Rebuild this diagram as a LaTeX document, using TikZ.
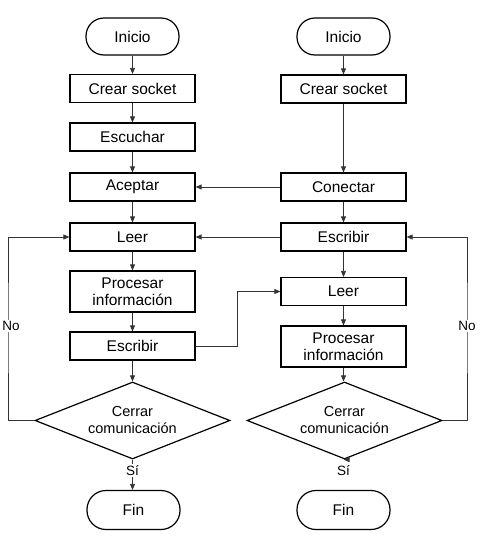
\documentclass[tikz,border=0pt]{standalone}
\usepackage{fontspec}
\setmainfont{Liberation Sans}
\usetikzlibrary{shapes.geometric,arrows.meta}
\begin{document}
\begin{tikzpicture}[x=1pt,y=-1pt,
  every node/.style={font=\fontsize{15.5}{17.5}\selectfont},
  procbox/.style={draw=black,line width=1.2pt,minimum width=125pt,minimum height=28pt,inner sep=0pt,align=center},
  termbox/.style={draw=black,line width=1.2pt,minimum width=93pt,minimum height=37pt,rounded corners=18pt,inner sep=0pt},
  decbox/.style={draw=black,line width=1.2pt,diamond,aspect=2.53,minimum width=195pt,minimum height=77pt,inner sep=0pt,align=center,font=\fontsize{14.5}{17}\selectfont},
  conn/.style={draw=black!80,line width=0.8pt,-{Triangle[length=6pt,width=5pt]}},
  lbl/.style={fill=white,inner sep=1pt,font=\fontsize{13.5}{15}\selectfont}]
\useasboundingbox (0,0) rectangle (485,536);
% left column
\node[termbox] (ini1) at (132.5,36.5) {Inicio};
\node[procbox] (cs1) at (132.5,88.5) {Crear socket};
\node[procbox] (esc) at (132.5,137) {Escuchar};
\node[procbox] (acp) at (132.5,187) {Aceptar};
\node[procbox] (lee1) at (132.5,237) {Leer};
\node[procbox,minimum height=41pt] (pro1) at (132.5,291.5) {Procesar\\información};
\node[procbox] (esb1) at (132.5,346) {Escribir};
\node[decbox] (d1) at (132.5,420.5) {Cerrar\\comunicación};
\node[termbox,minimum height=39pt,rounded corners=19pt] (fin1) at (133.5,510) {Fin};
% right column
\node[termbox] (ini2) at (343.5,36.5) {Inicio};
\node[procbox] (cs2) at (343.5,89) {Crear socket};
\node[procbox] (con) at (343.5,187) {Conectar};
\node[procbox] (esb2) at (343.5,237) {Escribir};
\node[procbox] (lee2) at (343.5,291.5) {Leer};
\node[procbox,minimum height=41pt] (pro2) at (343.5,346.5) {Procesar\\información};
\node[decbox] (d2) at (344.5,420.5) {Cerrar\\comunicación};
\node[termbox,minimum height=39pt,rounded corners=19pt] (fin2) at (343.5,510) {Fin};
% vertical flow
\draw[conn] (ini1) -- (cs1);
\draw[conn] (cs1) -- (esc);
\draw[conn] (esc) -- (acp);
\draw[conn] (acp) -- (lee1);
\draw[conn] (lee1) -- (pro1);
\draw[conn] (pro1) -- (esb1);
\draw[conn] (esb1) -- (d1);
\draw[conn] (d1.south) -- (d1.south |- fin1.north);
\node[lbl] (si1) at (132.5,470.5) {Sí};
\draw[conn] (ini2) -- (cs2);
\draw[conn] (cs2) -- (con);
\draw[conn] (con) -- (esb2);
\draw[conn] (esb2) -- (lee2);
\draw[conn] (lee2) -- (pro2);
\draw[conn] (pro2.south) -- (pro2.south |- d2.north);
\draw[conn] (d2.south) -- (d2.south -| fin2.north);
\node[lbl] (si2) at (343.5,470.5) {Sí};
% cross connectors
\draw[conn] (con.west) -- (acp.east);
\draw[conn] (esb2.west) -- (lee1.east);
\coordinate (mid) at (237,346);
\draw[conn] (esb1.east) -- (mid) |- (lee2.west);
% loops
\coordinate (nl) at (8,327);
\coordinate (nr) at (467,327);
\draw[conn] (d1.west) -| (nl) |- (lee1.west);
\draw[conn] (d2.east) -| (nr) |- (esb2.east);
\node[lbl] (no1) at (11,326) {No};
\node[lbl] (no2) at (467,326) {No};
\end{tikzpicture}
\end{document}
